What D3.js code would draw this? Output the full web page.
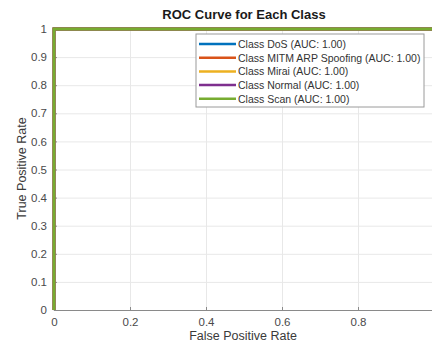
<!DOCTYPE html>
<html>
<head>
<meta charset="utf-8">
<script src="https://cdn.jsdelivr.net/npm/d3@7"></script>
<style>
  body { margin: 0; background: #fff; overflow: hidden; }
  svg { display: block; font-family: "Liberation Sans", Arial, sans-serif; }
</style>
</head>
<body>
<div id="chart"></div>
<script>
// ROC data per class (every class reaches a perfect curve)
const classes = ['DoS', 'MITM ARP Spoofing', 'Mirai', 'Normal', 'Scan'];
const aucValues = [1.00, 1.00, 1.00, 1.00, 1.00];
const fprValues = [[0, 0, 1], [0, 0, 1], [0, 0, 1], [0, 0, 1], [0, 0, 1]];
const tprValues = [[0, 1, 1], [0, 1, 1], [0, 1, 1], [0, 1, 1], [0, 1, 1]];
const colors = ['#0072bd', '#d95319', '#edb120', '#7e2f8e', '#77ac30'];
// the x=1 tick falls just past the right edge of the picture
const xTicks = [0, 0.2, 0.4, 0.6, 0.8];
const yTicks = [0, 0.1, 0.2, 0.3, 0.4, 0.5, 0.6, 0.7, 0.8, 0.9, 1];

const width = 432, height = 342;
const margin = { top: 29, right: -2, bottom: 32, left: 54 };
const innerWidth = width - margin.left - margin.right;
const innerHeight = height - margin.top - margin.bottom;

const svg = d3.select('#chart')
    .append('svg')
    .attr('width', width)
    .attr('height', height);

const g = svg.append('g')
    .attr('transform', `translate(${margin.left},${margin.top})`);

const xScale = d3.scaleLinear().domain([0, 1]).range([0, innerWidth]);
const yScale = d3.scaleLinear().domain([0, 1]).range([innerHeight, 0]);

// Grid lines
g.append('g')
    .attr('class', 'grid')
    .attr('transform', `translate(0,${innerHeight})`)
    .call(d3.axisBottom(xScale).tickValues(xTicks).tickSize(-innerHeight).tickFormat(''))
    .call(s => s.select('.domain').remove())
    .selectAll('line').attr('stroke', '#e8e8e8');

g.append('g')
    .attr('class', 'grid')
    .call(d3.axisLeft(yScale).tickValues(yTicks).tickSize(-innerWidth).tickFormat(''))
    .call(s => s.select('.domain').remove())
    .selectAll('line').attr('stroke', '#e8e8e8');

// Axes
const xAxis = g.append('g')
    .attr('transform', `translate(0,${innerHeight})`)
    .call(d3.axisBottom(xScale).tickValues(xTicks).tickSize(-3).tickPadding(8)
        .tickFormat(d => d === 0 ? '0' : d3.format('.1f')(d)));

const yAxis = g.append('g')
    .call(d3.axisLeft(yScale).tickValues(yTicks).tickSize(-3).tickPadding(7)
        .tickFormat(d => (d === 0 || d === 1) ? String(d) : d3.format('.1f')(d)));

[xAxis, yAxis].forEach(a => {
    a.select('.domain').attr('stroke', '#8a8a8a').attr('stroke-width', 1.2);
    a.selectAll('.tick line').attr('stroke', '#8a8a8a');
    a.selectAll('.tick text')
        .attr('fill', '#4a4a4a')
        .style('font-size', '11.5px');
});

// Top box line
g.append('line')
    .attr('x1', 0).attr('x2', innerWidth)
    .attr('y1', 0).attr('y2', 0)
    .attr('stroke', '#8a8a8a');

// ROC curves
const line = d3.line()
    .x(d => xScale(d[0]))
    .y(d => yScale(d[1]));

classes.forEach((c, i) => {
    const pts = fprValues[i].map((f, j) => [f, tprValues[i][j]]);
    g.append('path')
        .datum(pts)
        .attr('fill', 'none')
        .attr('stroke', colors[i])
        .attr('stroke-width', 2.8)
        .attr('d', line);
});

// Title
svg.append('text')
    .attr('x', margin.left + innerWidth / 2)
    .attr('y', 19)
    .attr('text-anchor', 'middle')
    .style('font-size', '13px')
    .style('font-weight', 'bold')
    .attr('fill', '#1a1a1a')
    .text('ROC Curve for Each Class');

// Axis labels
svg.append('text')
    .attr('x', margin.left + innerWidth / 2 - 1)
    .attr('y', 340)
    .attr('text-anchor', 'middle')
    .style('font-size', '12.5px')
    .attr('fill', '#3a3a3a')
    .text('False Positive Rate');

svg.append('text')
    .attr('transform', 'rotate(-90)')
    .attr('x', -(margin.top + innerHeight / 2) + 1)
    .attr('y', 26)
    .attr('text-anchor', 'middle')
    .style('font-size', '12.5px')
    .attr('fill', '#3a3a3a')
    .text('True Positive Rate');

// Legend
const legend = svg.append('g')
    .attr('transform', 'translate(196,34)');

legend.append('rect')
    .attr('width', 228)
    .attr('height', 73)
    .attr('fill', '#fff')
    .attr('stroke', '#9a9a9a')
    .attr('stroke-width', 1);

classes.forEach((c, i) => {
    const y = 10 + i * 13.7;
    legend.append('line')
        .attr('x1', 3).attr('x2', 40)
        .attr('y1', y).attr('y2', y)
        .attr('stroke', colors[i])
        .attr('stroke-width', 2.5);
    legend.append('text')
        .attr('x', 42)
        .attr('y', y + 3.8)
        .style('font-size', '10.5px')
        .attr('fill', '#333')
        .text(`Class ${c} (AUC: ${aucValues[i].toFixed(2)})`);
});
</script>
</body>
</html>
